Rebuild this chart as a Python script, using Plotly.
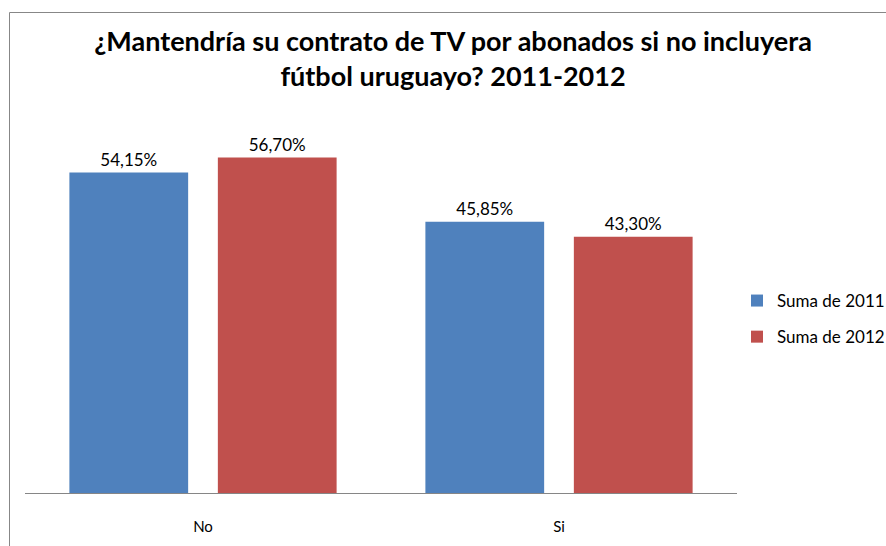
import plotly.graph_objects as go

categories = ["No", "Si"]
series_names = ["Suma de 2011", "Suma de 2012"]
values_2011 = [54.15, 45.85]
values_2012 = [56.70, 43.30]
title_text = "¿Mantendría su contrato de TV por abonados si no incluyera<br>fútbol uruguayo? 2011-2012"

colors = ["#4F81BD", "#C0504D"]
FONT = "Lato, Carlito, 'Liberation Sans', sans-serif"

def fmt(v):
    return f"{v:.2f}".replace(".", ",") + "%"

fig = go.Figure()
for name, vals, col, grp in zip(series_names, [values_2011, values_2012], colors, ["a", "b"]):
    fig.add_trace(go.Bar(
        x=categories, y=vals, name=name, marker=dict(color=col, line=dict(width=0)),
        text=[fmt(v) for v in vals], textposition="outside", cliponaxis=False,
        textfont=dict(family=FONT, size=17, color="#000000"),
        legendgroup=grp,
    ))

W, H = 886, 546
fig.update_layout(
    width=W, height=H,
    margin=dict(l=0, r=0, t=0, b=0, autoexpand=False),
    paper_bgcolor="white", plot_bgcolor="white",
    barmode="group", bargap=0.166, bargroupgap=0.2,
    title=dict(text="<b>" + title_text + "</b>", x=453 / W, xanchor="center",
               y=1 - 51 / H, yanchor="top",
               font=dict(family=FONT, size=27, color="#000000")),
    xaxis=dict(domain=[25 / W, 737 / W], showline=True, linecolor="#868686", linewidth=1,
               ticks="outside", ticklen=20, tickcolor="rgba(0,0,0,0)", automargin=False,
               tickfont=dict(family=FONT, size=15, color="#000000"), showgrid=False),
    yaxis=dict(domain=[1 - 493 / H, 1 - 138 / H], range=[0, 60], visible=False,
               showgrid=False, automargin=False),
    legend=dict(x=737 / W, xanchor="left", y=1 - 319 / H, yanchor="middle",
                font=dict(family=FONT, size=17, color="#000000"),
                tracegroupgap=11, traceorder="grouped", bgcolor="rgba(0,0,0,0)"),
    showlegend=True,
    shapes=[dict(type="rect", xref="paper", yref="paper",
                 x0=9.5 / W, x1=1.05, y0=-0.05, y1=1 - 12.5 / H,
                 line=dict(color="#878787", width=1), fillcolor="rgba(0,0,0,0)", layer="below")],
)

fig.write_html("out.html", config={"displayModeBar": False},
               post_script="document.body.style.margin='0px';document.body.style.overflow='hidden';")
